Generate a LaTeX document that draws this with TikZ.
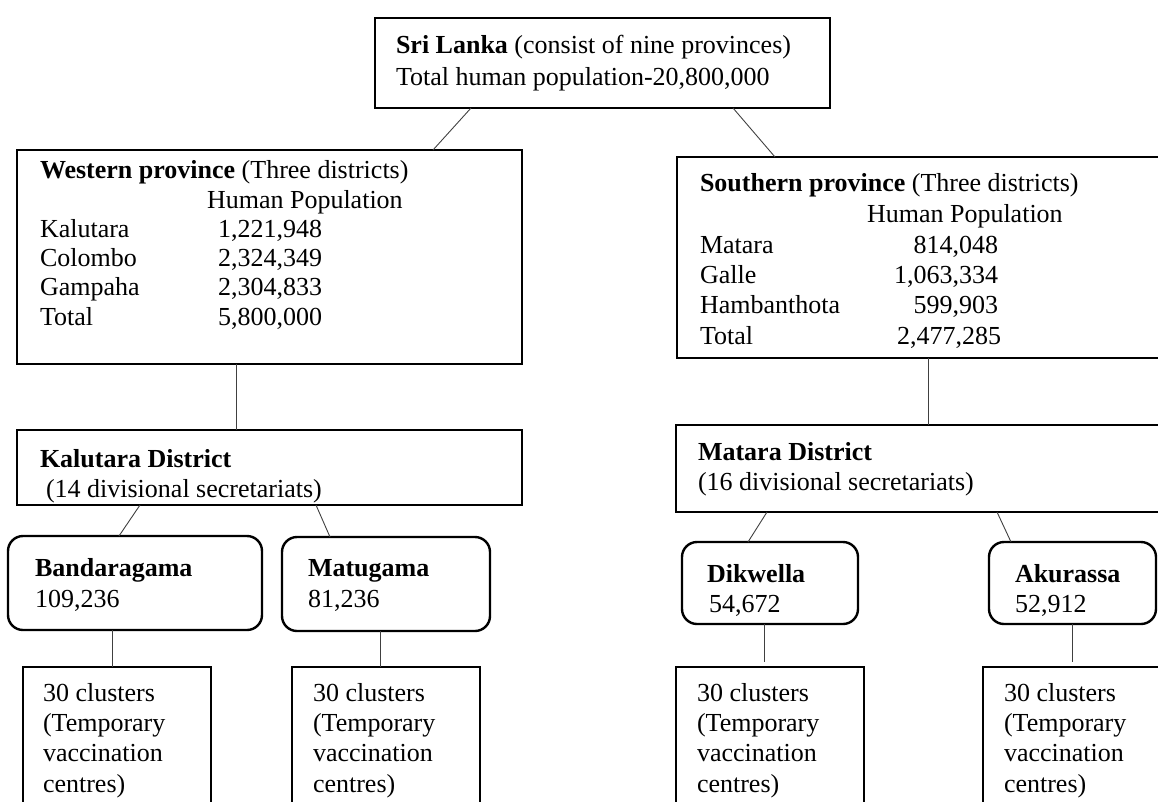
\documentclass[tikz,border=0pt]{standalone}
\usepackage{fontspec}
\setmainfont{Liberation Serif}
\begin{document}
\begin{tikzpicture}[x=1pt,y=-1pt,
  boxst/.style={draw=black,line width=2.4pt,inner sep=0pt,outer sep=0pt,anchor=north west},
  rbox/.style={boxst,rounded corners=15pt},
  conn/.style={draw=black!75,line width=0.9pt},
  txt/.style={inner sep=0pt,outer sep=0pt,anchor=base west,font=\fontsize{26}{30}\selectfont},
  txtr/.style={txt,anchor=base east}]
\useasboundingbox (0,0) rectangle (1158,801);
% boxes
\node[boxst,minimum width=455,minimum height=90] (top) at (375,18) {};
\node[boxst,minimum width=505,minimum height=214] (west) at (17,150) {};
\node[boxst,minimum width=486,minimum height=201] (south) at (677,157) {};
\node[boxst,minimum width=505,minimum height=75] (kal) at (17,430) {};
\node[boxst,minimum width=487,minimum height=87] (mat) at (676,425) {};
\node[rbox,minimum width=254,minimum height=94] (band) at (8,536) {};
\node[rbox,minimum width=208,minimum height=94] (matu) at (282,537) {};
\node[rbox,minimum width=176,minimum height=82] (dik) at (682,542) {};
\node[rbox,minimum width=167,minimum height=82] (aku) at (989,542) {};
\node[boxst,minimum width=188,minimum height=145] (c1) at (23,667) {};
\node[boxst,minimum width=188,minimum height=145] (c2) at (292,667) {};
\node[boxst,minimum width=188,minimum height=145] (c3) at (676,667) {};
\node[boxst,minimum width=180,minimum height=145] (c4) at (983,667) {};
% connectors
\draw[conn] ([xshift=96pt]top.south west) -- ([xshift=416pt]west.north west);
\draw[conn] ([xshift=358pt]top.south west) -- ([xshift=98pt]south.north west);
\draw[conn] ([xshift=219pt]west.south west) -- ([xshift=219pt]kal.north west);
\draw[conn] ([xshift=251pt]south.south west) -- ([xshift=252pt]mat.north west);
\draw[conn] ([xshift=123pt]kal.south west) -- ([xshift=111pt]band.north west);
\draw[conn] ([xshift=299pt]kal.south west) -- ([xshift=48pt]matu.north west);
\draw[conn] ([xshift=91pt]mat.south west) -- ([xshift=66pt]dik.north west);
\draw[conn] ([xshift=321pt]mat.south west) -- ([xshift=22pt]aku.north west);
\draw[conn] ([xshift=104pt]band.south west) -- ([xshift=89pt]c1.north west);
\draw[conn] ([xshift=98pt]matu.south west) -- ([xshift=88pt]c2.north west);
\draw[conn,shorten >=5pt] ([xshift=82pt]dik.south west) -- ([xshift=88pt]c3.north west);
\draw[conn,shorten >=5pt] ([xshift=83pt]aku.south west) -- ([xshift=89pt]c4.north west);
% top texts
\node[txt] (ta) at (396,53) {\textbf{Sri Lanka} (consist of nine provinces)};
\node[txt] (tb) at (396,85) {Total human population-20,800,000};
% western
\node[txt] (wa) at (40,178) {\textbf{Western province} (Three districts)};
\node[txt] (wb) at (207,208) {Human Population};
\node[txt] (wc1) at (40,237) {Kalutara};
\node[txt] (wc2) at (218,237) {1,221,948};
\node[txt] (wd1) at (40,266) {Colombo};
\node[txt] (wd2) at (218,266) {2,324,349};
\node[txt] (we1) at (40,295) {Gampaha};
\node[txt] (we2) at (218,295) {2,304,833};
\node[txt] (wf1) at (40,325) {Total};
\node[txt] (wf2) at (218,325) {5,800,000};
% southern
\node[txt] (sa) at (700,191) {\textbf{Southern province} (Three districts)};
\node[txt] (sb) at (867,222) {Human Population};
\node[txt] (sc1) at (700,253) {Matara};
\node[txtr] (sc2) at (998,253) {814,048};
\node[txt] (sd1) at (700,283) {Galle};
\node[txtr] (sd2) at (998,283) {1,063,334};
\node[txt] (se1) at (700,313) {Hambanthota};
\node[txtr] (se2) at (998,313) {599,903};
\node[txt] (sf1) at (700,344) {Total};
\node[txtr] (sf2) at (1001,344) {2,477,285};
% districts
\node[txt] (ka) at (40,467) {\textbf{Kalutara District}};
\node[txt] (kb) at (46,497) {(14 divisional secretariats)};
\node[txt] (ma) at (698,460) {\textbf{Matara District}};
\node[txt] (mb) at (698,490) {(16 divisional secretariats)};
% divisions
\node[txt] (ba) at (35,576) {\textbf{Bandaragama}};
\node[txt] (bb) at (35,607) {109,236};
\node[txt] (ua) at (308,576) {\textbf{Matugama}};
\node[txt] (ub) at (308,607) {81,236};
\node[txt] (da) at (707,582) {\textbf{Dikwella}};
\node[txt] (db) at (709,612) {54,672};
\node[txt] (aa) at (1015,582) {\textbf{Akurassa}};
\node[txt] (ab) at (1015,612) {52,912};
% clusters
\foreach \n/\x in {1/43,2/313,3/697,4/1004}{
  \node[txt] (c\n a) at (\x,701) {30 clusters};
  \node[txt] (c\n b) at (\x,731) {(Temporary};
  \node[txt] (c\n c) at (\x,761) {vaccination};
  \node[txt] (c\n d) at (\x,792) {centres)};
}
\end{tikzpicture}
\end{document}
